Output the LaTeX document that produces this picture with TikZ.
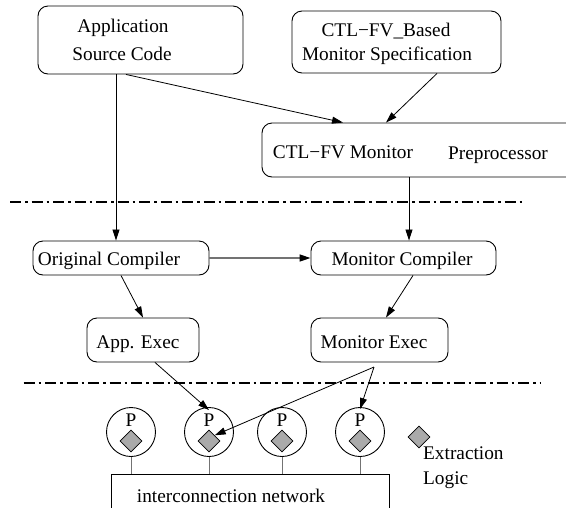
\documentclass[tikz,border=0pt]{standalone}
\usepackage{fontspec}
\setmainfont{Liberation Serif}
\usetikzlibrary{arrows.meta,shapes.geometric}
\definecolor{dgray}{RGB}{170,170,170}
\tikzset{
  rbox/.style={draw, line width=0.9pt, rounded corners=10pt, inner sep=0pt},
  sqbox/.style={draw, line width=0.9pt, inner sep=0pt},
  txt/.style={inner sep=0pt, anchor=base, font=\fontsize{19.3}{22}\selectfont},
  ltxt/.style={txt, anchor=base west},
  arr/.style={line width=0.8pt, -{Triangle[length=11pt,width=7pt]}},
  graylink/.style={line width=1.3pt, draw=black!55, -{Triangle[length=11pt,width=7pt,color=black,fill=black]}},
  stub/.style={line width=1pt, draw=black!55},
  sep/.style={line width=2.8pt, dash pattern=on 11pt off 4pt on 2.5pt off 4pt},
  proc/.style={draw, circle, line width=0.9pt, minimum size=49pt, inner sep=0pt},
  dia/.style={draw, diamond, aspect=1, fill=dgray, line width=0.8pt, minimum width=22pt, minimum height=22pt, inner sep=0pt},
}
\begin{document}
\begin{tikzpicture}[x=1pt,y=-1pt]
\clip (0,0) rectangle (566,507);
% boxes
\node[rbox, minimum width=205pt, minimum height=68pt] (app) at (140.5,40) {};
\node[rbox, minimum width=209pt, minimum height=62pt] (spec) at (396.5,42) {};
\node[rbox, minimum width=358pt, minimum height=54pt] (pre) at (441,150) {};
\node[rbox, minimum width=176pt, minimum height=34pt] (oc) at (121,258) {};
\node[rbox, minimum width=185pt, minimum height=34pt] (mc) at (403.5,258) {};
\node[rbox, minimum width=112pt, minimum height=44pt] (ae) at (143,340) {};
\node[rbox, minimum width=137pt, minimum height=44pt] (me) at (379.5,340) {};
\node[sqbox, minimum width=278pt, minimum height=70pt] (net) at (250,509) {};
% texts
\node[txt] (t1) at (123,32) {Application};
\node[txt] (t2) at (122,60) {Source Code};
\node[txt] (t3) at (386,36) {CTL−FV\_Based};
\node[txt] (t4) at (387,60) {Monitor Specification};
\node[txt] (t5) at (343,158) {CTL−FV Monitor};
\node[txt] (t6) at (498,159) {Preprocessor};
\node[txt] (t7) at (109,265) {Original Compiler};
\node[txt] (t8) at (402,265) {Monitor Compiler};
\node[txt] (t9) at (138,348) {App. Exec};
\node[txt] (t10) at (374,348) {Monitor Exec};
\node[txt] (t11) at (231,502) {interconnection network};
\node[ltxt] (t12) at (423,459) {Extraction};
\node[ltxt] (t13) at (423,484) {Logic};
% separators
\coordinate (s1a) at (10,202);
\coordinate (s1b) at (525,202);
\coordinate (s2a) at (23.5,383);
\coordinate (s2b) at (541,383);
\draw[sep] (s1a) -- (s1b);
\draw[sep] (s2a) -- (s2b);
% processors
\foreach \i/\x in {1/131,2/209,3/282,4/360}{
  \node[proc] (p\i) at (\x,432) {};
  \node[txt] (pl\i) at (\x,426) {P};
  \node[dia] (d\i) at (\x,441) {};
  \draw[stub] (p\i.south) -- (p\i.south |- net.north);
}
\node[dia] (dx) at (419,437) {};
% connectors
\coordinate (xa) at (116,0);
\coordinate (xb) at (409,0);
\draw[arr] (app.south -| xa) -- (oc.north -| xa);
\draw[arr] ([xshift=-14.5pt]app.south) -- ([xshift=-98pt]pre.north);
\draw[arr] ([xshift=40.5pt]spec.south) -- ([xshift=-55pt]pre.north);
\draw[arr] (pre.south -| xb) -- (mc.north -| xb);
\draw[graylink] (oc.east) -- (mc.west);
\draw[arr] (oc.south) -- (ae.north);
\draw[arr] ([xshift=9.5pt]mc.south) -- ([xshift=6.5pt]me.north);
\draw[arr] ([xshift=12pt]ae.south) -- ([yshift=-3pt]p2.north);
\coordinate (apex) at (374,367);
\draw[arr] (apex) -- ([yshift=-2pt]p4.north);
\draw[arr] (apex) -- (d2.north east);
\end{tikzpicture}
\end{document}
